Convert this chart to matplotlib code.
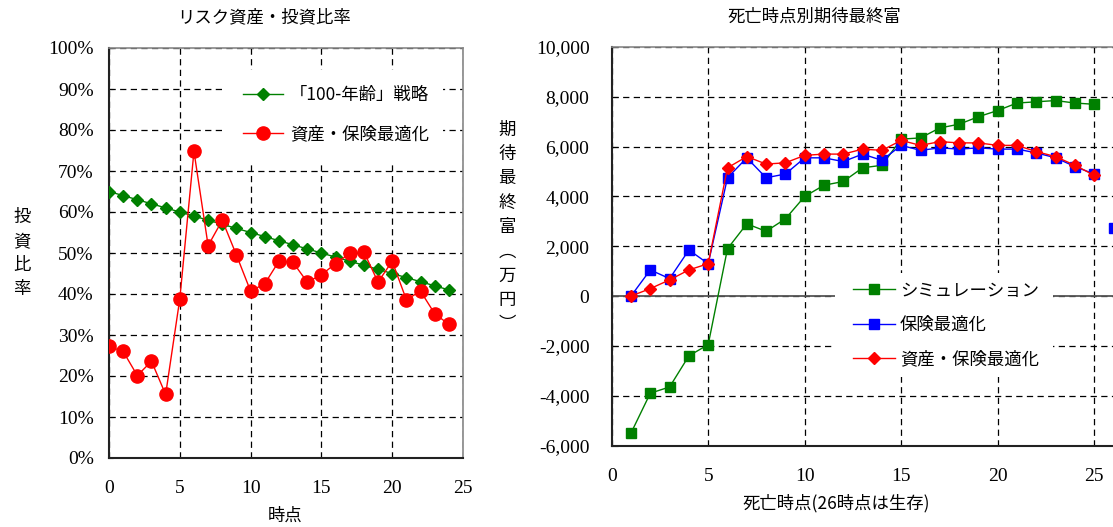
import matplotlib
matplotlib.use('Agg')
import matplotlib.pyplot as plt
from matplotlib.ticker import FuncFormatter, MultipleLocator, FixedLocator
from matplotlib.patches import Rectangle

JP = ['Noto Sans CJK JP', 'DejaVu Sans']
NUM = ['Liberation Serif', 'DejaVu Serif']

# ---------------- data ----------------
t_left = list(range(25))
strategy_100 = [65, 64, 63, 62, 61, 60, 59, 58, 57, 56, 55, 54, 53,
                52, 51, 50, 49, 48, 47, 46, 45, 44, 43, 42, 41]
asset_ins_ratio = [27.2, 26.0, 20.1, 23.6, 15.5, 38.8, 74.8, 51.8, 58.0, 49.5,
                   40.7, 42.5, 48.0, 47.7, 42.9, 44.7, 47.4, 49.9, 50.3, 42.9,
                   48.0, 38.6, 40.7, 35.2, 32.6]

t_right = list(range(1, 26))
simulation = [-5500, -3900, -3650, -2400, -1950, 1900, 2900, 2600, 3100, 4000,
              4450, 4600, 5150, 5250, 6300, 6350, 6750, 6900, 7200, 7450,
              7750, 7800, 7850, 7750, 7700]
ins_opt = [0, 1050, 700, 1850, 1300, 4750, 5550, 4750, 4900, 5550,
           5550, 5400, 5700, 5450, 6050, 5850, 5950, 5900, 5950, 5900,
           5900, 5750, 5550, 5200, 4900]
asset_ins_opt = [0, 300, 650, 1050, 1300, 5150, 5600, 5300, 5350, 5650,
                 5700, 5700, 5900, 5850, 6250, 6050, 6200, 6150, 6150, 6050,
                 6050, 5800, 5600, 5250, 4850]
t_survive = [26]
ins_survive = [2750]

right_xticks = [0, 5, 10, 15, 20, 25]

left_title = 'リスク資産・投資比率'
right_title = '死亡時点別期待最終富'
left_xlabel = '時点'
right_xlabel = '死亡時点(26時点は生存)'
left_ylabel = '投資比率'
right_ylabel = '期待最終富︵万円︶'
lbl_100 = '「100-年齢」戦略'
lbl_asset = '資産・保険最適化'
lbl_sim = 'シミュレーション'
lbl_ins = '保険最適化'

GREEN = '#008000'
RED = '#FF0000'
BLUE = '#0000FF'

W, H = 1113, 527
fig = plt.figure(figsize=(W / 100, H / 100), dpi=100)


def fx(px):
    return px / W


def fy(py):
    return 1 - py / H


DASH = (0, (5, 3.5))

# ---------------- left chart ----------------
ax1 = fig.add_axes([fx(109), fy(458), fx(463 - 109), (458 - 48) / H])
ax1.set_xlim(0, 25)
ax1.set_ylim(0, 100)
ax1.xaxis.set_major_locator(MultipleLocator(5))
ax1.yaxis.set_major_locator(MultipleLocator(10))
ax1.yaxis.set_major_formatter(FuncFormatter(lambda v, p: f'{v:.0f}%'))
ax1.set_axisbelow(True)
ax1.grid(True, color='black', linestyle=DASH, linewidth=0.9)
ax1.tick_params(axis='x', length=0, pad=16, labelsize=14, labelfontfamily=NUM)
ax1.tick_params(axis='y', direction='in', length=3, pad=11, labelsize=14, labelfontfamily=NUM)
for s in ['left', 'bottom']:
    ax1.spines[s].set_color('#222222')
    ax1.spines[s].set_linewidth(1.5)
for s in ['top', 'right']:
    ax1.spines[s].set_color('#888888')
    ax1.spines[s].set_linewidth(1.2)

ax1.add_patch(Rectangle((fx(222), fy(165)), fx(443 - 222), (165 - 70) / H,
                        transform=fig.transFigure, facecolor='white',
                        edgecolor='none', zorder=1))
ax1.plot(t_left, strategy_100, color=GREEN, marker='D', markersize=6,
         linewidth=1.0, zorder=3, label=lbl_100)
ax1.plot(t_left, asset_ins_ratio, color=RED, marker='o', markersize=9.5,
         linewidth=1.0, zorder=4, label=lbl_asset)

ax1.legend(loc='center left', bbox_to_anchor=(fx(243), fy(114.5)),
           bbox_transform=fig.transFigure, frameon=False,
           prop={'family': JP, 'size': 12.5}, handlelength=2.3,
           handletextpad=0.4, labelspacing=1.2, borderpad=0,
           borderaxespad=0)

# ---------------- right chart ----------------
ax2 = fig.add_axes([fx(611.7), fy(445.5), 30 * 19.3 / W, (445.5 - 47) / H])
ax2.set_xlim(0, 30)
ax2.set_ylim(-6000, 10000)
ax2.xaxis.set_major_locator(FixedLocator(right_xticks))
ax2.yaxis.set_major_locator(MultipleLocator(2000))
ax2.yaxis.set_major_formatter(FuncFormatter(lambda v, p: f'{v:,.0f}'))
ax2.set_axisbelow(True)
ax2.grid(True, color='black', linestyle=DASH, linewidth=0.9)
ax2.tick_params(axis='x', length=0, pad=16, labelsize=14, labelfontfamily=NUM)
ax2.tick_params(axis='y', direction='in', length=4, pad=16, labelsize=14, labelfontfamily=NUM)
for s in ['left', 'bottom']:
    ax2.spines[s].set_color('#222222')
    ax2.spines[s].set_linewidth(1.5)
ax2.spines['top'].set_color('#888888')
ax2.spines['top'].set_linewidth(1.2)
ax2.spines['right'].set_visible(False)
ax2.axhline(0, color='#555555', linewidth=1.3, zorder=0.6)

ax2.add_patch(Rectangle((fx(835), fy(377)), fx(1053 - 835), (377 - 273) / H,
                        transform=fig.transFigure, facecolor='white',
                        edgecolor='none', zorder=1))
ax2.plot(t_right, simulation, color=GREEN, marker='s', markersize=7.5,
         linewidth=1.0, zorder=3, label=lbl_sim)
ax2.plot(t_right, ins_opt, color=BLUE, marker='s', markersize=7.5,
         linewidth=1.0, zorder=4, label=lbl_ins)
ax2.plot(t_right, asset_ins_opt, color=RED, marker='D', markersize=6,
         linewidth=1.0, zorder=5, label=lbl_asset)
ax2.plot(t_survive, ins_survive, color=BLUE, marker='s', markersize=7.5,
         linestyle='none', zorder=4, clip_on=False)

ax2.legend(loc='center left', bbox_to_anchor=(fx(853), fy(325)),
           bbox_transform=fig.transFigure, frameon=False,
           prop={'family': JP, 'size': 12.5}, handlelength=2.4,
           handletextpad=0.3, labelspacing=0.95, borderpad=0,
           borderaxespad=0)

# ---------------- texts ----------------
fig.text(fx(264), fy(17), left_title, ha='center', va='center',
         fontsize=12.5, family=JP)
fig.text(fx(814), fy(17), right_title, ha='center', va='center',
         fontsize=12.5, family=JP)
fig.text(fx(285), fy(516), left_xlabel, ha='center', va='center',
         fontsize=12.5, family=JP)
fig.text(fx(836), fy(503), right_xlabel, ha='center', va='center',
         fontsize=12.5, family=JP)
fig.text(fx(22), fy(253), '\n'.join(left_ylabel), ha='center', va='center',
         fontsize=12.5, family=JP, linespacing=1.45)
fig.text(fx(507), fy(227), '\n'.join(right_ylabel), ha='center', va='center',
         fontsize=12.5, family=JP, linespacing=1.45)

fig.savefig('out.png', dpi=100)
